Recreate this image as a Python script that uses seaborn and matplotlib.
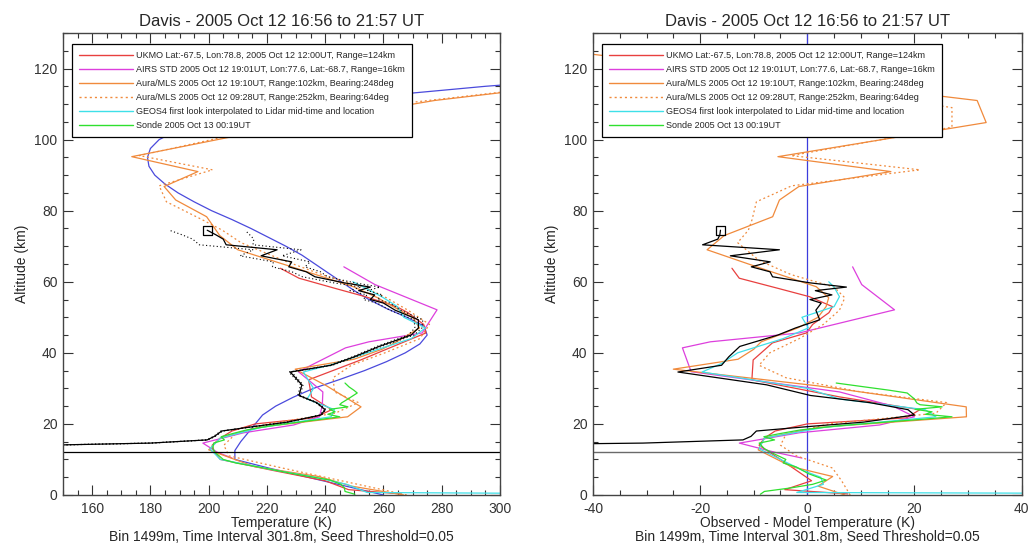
import numpy as np
import matplotlib
matplotlib.use("Agg")
import matplotlib.pyplot as plt
from matplotlib.lines import Line2D
import seaborn as sns
from matplotlib.ticker import MultipleLocator

# ---- model reference profile (MSIS-like), altitude in km, temperature in K ----
msis_alt = [0, 2.5, 5, 7.5, 10, 12.5, 15, 17.5, 20, 22.5, 25, 27.5, 30, 32.5, 35, 37.5,
            40, 42.5, 45, 47.5, 50, 52.5, 55, 57.5, 60, 62.5, 65, 67.5, 70, 72.5, 75,
            77.5, 80, 82.5, 85, 87.5, 90, 92.5, 95, 97.5, 100, 102.5, 105, 107.5, 110,
            112.5, 115, 117.5, 120, 125, 130]
msis_t = [260, 247, 234, 221, 209, 209, 211, 213.5, 216, 218.5, 223, 229, 236, 245, 253.5,
          261, 267.5, 272.5, 275, 274, 268, 261, 255, 250, 245.5, 241, 236.5, 232, 226.5,
          220.5, 214.5, 208, 201, 195, 189.5, 185, 181.5, 179.5, 179, 180, 183, 189, 200,
          215, 235, 262, 295, 335, 380, 470, 560]

# ---- Rayleigh lidar retrieval ----
lidar_alt = [13.4, 14.1, 14.6, 15.5, 16.5, 18.0, 19.2, 20.5, 22.5, 24.0, 26.0, 28.0, 31.0,
             34.6, 36.5, 38.9, 41.8, 45.0, 47.0, 49.3, 52.0, 54.0, 55.0, 56.3, 57.5, 58.5,
             59.7, 61.4, 62.8, 64.2, 65.6, 67.3, 69.0, 70.4, 72.0, 73.2, 74.5]
lidar_t = [60, 150, 180, 199.5, 202, 204.5, 215, 227, 238.5, 240, 237, 231, 232, 228, 242,
           250, 258.5, 269.5, 272, 272, 264, 260, 255.5, 257, 251.5, 255.5, 246.5, 236.5,
           233.5, 227.5, 228.5, 218, 223.5, 206, 205, 202.5, 199.5]
lidar_err = [0.3, 0.3, 0.3, 0.3, 0.3, 0.3, 0.3, 0.3, 0.3, 0.3, 0.3, 0.4, 0.4, 0.5, 0.5, 0.6,
             0.8, 1.0, 1.2, 1.5, 1.8, 2.2, 2.4, 2.7, 3.0, 3.3, 3.6, 4.3, 4.9, 5.6, 6.3, 7.2,
             8.2, 9.2, 10.5, 11.6, 13.0]
cutoff_alt = 12.1

# ---- comparison profiles ----
ukmo_alt = [0.3, 1.5, 4, 7, 10, 12, 14, 16, 18, 20, 21.7, 24, 27.6, 32.4, 38, 42.8, 45.6, 48,
            51.3, 53, 55.8, 58, 61, 63.8]
ukmo_t = [266, 248, 240, 221.5, 204, 202, 201.2, 204, 208, 216, 236.2, 242.2, 235.3, 234.3,
          252.2, 266.3, 274.6, 273.8, 268.4, 264.5, 253.8, 244, 231, 224.6]

airs_alt = [10.4, 12, 14.6, 17.5, 19.7, 22, 25, 29, 34.7, 41.4, 43.1, 45.6, 52.1, 59.2, 64.2]
airs_t = [208, 203, 198, 212, 229.2, 238, 239, 239.2, 230.8, 247, 255, 273.3, 278.4, 257.1,
          246.4]

mls_pm_alt = [0, 2.5, 5.2, 8, 12.7, 16, 19, 22, 24.8, 30.7, 35.4, 38.2, 41, 43.1, 47, 50, 53,
              55.5, 58.6, 64.2, 69, 73, 78.3, 83, 86.8, 91, 95.2, 104.8, 111, 124]
mls_pm_t = [267, 249, 237.7, 215.6, 200, 204, 217, 247.7, 252.3, 240.5, 229.7, 249.9, 259.5,
            264.5, 272.4, 270, 263.3, 258, 249.7, 228.5, 210, 203.8, 199.3, 188.7, 184.7,
            196.3, 173.6, 232.5, 277.5, 412]

mls_am_alt = [0, 4, 7.6, 11, 14, 17, 20, 23, 26, 29, 33, 36.5, 40, 44, 48, 52, 55.5, 58.5, 62,
              66, 71, 74.5, 77.5, 82.5, 87, 91.5, 95.5, 103.5, 109, 124]
mls_am_t = [268, 245.6, 225.2, 207, 205.2, 209, 220, 243.4, 251.4, 243.2, 242.7, 249, 260.5,
            272.5, 275.8, 268.4, 261, 253.2, 238.9, 225.7, 211.1, 204.7, 197.7, 185.5, 183,
            201.3, 176.2, 220.4, 254, 414]

geos_alt = [0, 0.7, 3, 5, 7, 10, 13, 16, 19, 22, 24, 27, 30, 34.6, 37, 40, 44, 47, 50, 53,
            55.8, 58.5, 60]
geos_t = [420, 254.4, 247.4, 236.5, 222.6, 204, 200.4, 204, 218, 242, 243.2, 233.8, 236,
          232.5, 243.5, 254.5, 269.5, 274.4, 267, 264.8, 259.4, 253.2, 249.5]

sonde_alt = [0.2, 1, 2, 3, 4.2, 5, 6, 7.9, 9, 10, 11.8, 13, 14.6, 15.5, 16.4, 17.3, 18.3,
             19.5, 20.5, 21.3, 22, 22.7, 23.4, 24.1, 24.8, 25.4, 25.9, 27, 28.7, 29.5, 30.4,
             31.5]
sonde_t = [250.2, 246.8, 246.6, 245.4, 241.7, 236, 229, 217, 209.3, 205, 202.5, 201.4, 201.7,
           205.4, 204.3, 208.3, 213, 221.5, 231, 238.8, 245, 240.9, 243.4, 241.5, 247.8, 245,
           245.6, 247.8, 251, 249.8, 248.2, 246.8]

labels = [
    "UKMO Lat:-67.5, Lon:78.8, 2005 Oct 12 12:00UT, Range=124km",
    "AIRS STD 2005 Oct 12 19:01UT, Lon:77.6, Lat:-68.7, Range=16km",
    "Aura/MLS 2005 Oct 12 19:10UT, Range:102km, Bearing:248deg",
    "Aura/MLS 2005 Oct 12 09:28UT, Range:252km, Bearing:64deg",
    "GEOS4 first look interpolated to Lidar mid-time and location",
    "Sonde 2005 Oct 13 00:19UT",
]

DOTS = (0, (1.5, 2.2))
series = [
    (ukmo_alt, ukmo_t, "#e8403f", "-"),
    (airs_alt, airs_t, "#dd3fdd", "-"),
    (mls_pm_alt, mls_pm_t, "#f08a3c", "-"),
    (mls_am_alt, mls_am_t, "#f08a3c", DOTS),
    (geos_alt, geos_t, "#3fe0e8", "-"),
    (sonde_alt, sonde_t, "#2fe02f", "-"),
]

title = "Davis - 2005 Oct 12 16:56 to 21:57 UT"
footer = "Bin 1499m, Time Interval 301.8m, Seed Threshold=0.05"

sns.set_style("ticks")
plt.rcParams["font.family"] = ["Liberation Sans", "DejaVu Sans"]
plt.rcParams["axes.unicode_minus"] = False

fig = plt.figure(figsize=(10.33, 5.49), dpi=100)
ax_t = fig.add_axes([0.061, 0.0984, 0.423, 0.8415])
ax_d = fig.add_axes([0.574, 0.0984, 0.415, 0.8415])

LW = 0.9


def model_at(alt):
    return np.interp(alt, msis_alt, msis_t)


def profile(ax, x, y, color, ls="-", lw=LW):
    sns.lineplot(x=np.asarray(x, float), y=np.asarray(y, float), ax=ax, sort=False,
                 estimator=None, color=color, linestyle=ls, linewidth=lw, legend=False)


# ---------- left: absolute temperatures ----------
profile(ax_t, msis_t, msis_alt, "#4a4adc")
for alt, t, color, ls in series:
    profile(ax_t, t, alt, color, ls)
lt = np.asarray(lidar_t)
le = np.asarray(lidar_err)
profile(ax_t, lt - le, lidar_alt, "black", (0, (1, 2.2)), lw=0.8)
profile(ax_t, lt + le, lidar_alt, "black", (0, (1, 2.2)), lw=0.8)
profile(ax_t, lidar_t, lidar_alt, "black")
ax_t.axhline(cutoff_alt, color="black", lw=0.9)
sns.scatterplot(x=[lidar_t[-1]], y=[lidar_alt[-1]], ax=ax_t, marker="s", s=45,
                facecolor="none", edgecolor="black", linewidth=0.9, zorder=5)

# ---------- right: observed minus model ----------
profile(ax_d, np.asarray(msis_t) - model_at(msis_alt), msis_alt, "#3c3cdc")
for alt, t, color, ls in series:
    profile(ax_d, np.asarray(t) - model_at(alt), alt, color, ls)
lidar_diff = np.asarray(lidar_t) - model_at(lidar_alt)
profile(ax_d, lidar_diff, lidar_alt, "black")
ax_d.axhline(cutoff_alt, color="#6a6a6a", lw=1.0)
sns.scatterplot(x=[lidar_diff[-1]], y=[lidar_alt[-1]], ax=ax_d, marker="s", s=45,
                facecolor="none", edgecolor="black", linewidth=0.9, zorder=5)

# ---------- axes styling ----------
ax_t.set_xlim(150, 300)
ax_d.set_xlim(-40, 40)
for ax, xlab in ((ax_t, "Temperature (K)"), (ax_d, "Observed - Model Temperature (K)")):
    ax.set_ylim(0, 130)
    ax.xaxis.set_major_locator(MultipleLocator(20))
    ax.xaxis.set_minor_locator(MultipleLocator(5))
    ax.yaxis.set_major_locator(MultipleLocator(20))
    ax.yaxis.set_minor_locator(MultipleLocator(5))
    ax.tick_params(which="both", direction="in", top=True, right=True, labelsize=10,
                   colors="#333333", width=0.8)
    ax.tick_params(which="major", length=7)
    ax.tick_params(which="minor", length=3.5)
    ax.tick_params(axis="x", which="major", pad=5)
    ax.tick_params(axis="y", which="major", pad=4)
    for sp in ax.spines.values():
        sp.set_color("#444444")
        sp.set_linewidth(1.0)
    ax.set_title(title, fontsize=12, pad=5)
    ax.set_xlabel(xlab + "\n" + footer, fontsize=10, linespacing=1.0, labelpad=0)
    ax.set_ylabel("Altitude (km)", fontsize=10, labelpad=4)
    handles = [Line2D([], [], color=c, linestyle=ls, linewidth=1.0) for _, _, c, ls in series]
    leg = ax.legend(handles=handles, labels=labels, loc="upper left",
                    bbox_to_anchor=(0.02, 0.977), fontsize=6.5, frameon=True,
                    fancybox=False, handlelength=6.0, handletextpad=0.35,
                    labelspacing=0.55, borderpad=0.8, borderaxespad=0)
    leg.get_frame().set_edgecolor("black")
    leg.get_frame().set_linewidth(0.9)
    leg.get_frame().set_alpha(1.0)

fig.savefig("out.png", dpi=100)
